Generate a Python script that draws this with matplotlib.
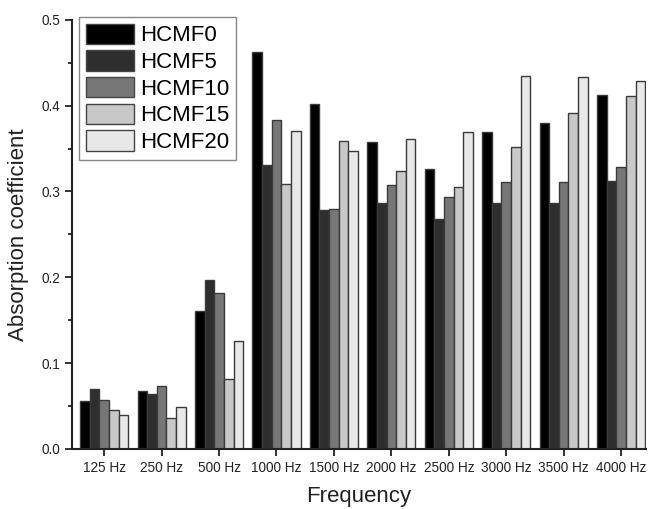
import matplotlib
matplotlib.use("Agg")
import matplotlib.pyplot as plt
from matplotlib.ticker import MultipleLocator, FormatStrFormatter
import numpy as np

plt.rcParams['font.family'] = ['Liberation Sans', 'DejaVu Sans']

categories = ["125 Hz", "250 Hz", "500 Hz", "1000 Hz", "1500 Hz",
              "2000 Hz", "2500 Hz", "3000 Hz", "3500 Hz", "4000 Hz"]
series_names = ["HCMF0", "HCMF5", "HCMF10", "HCMF15", "HCMF20"]
hcmf0 = [0.056, 0.068, 0.161, 0.462, 0.402, 0.358, 0.326, 0.369, 0.380, 0.412]
hcmf5 = [0.070, 0.064, 0.197, 0.331, 0.278, 0.287, 0.268, 0.287, 0.287, 0.312]
hcmf10 = [0.057, 0.073, 0.182, 0.383, 0.280, 0.308, 0.294, 0.311, 0.311, 0.328]
hcmf15 = [0.045, 0.036, 0.082, 0.309, 0.359, 0.324, 0.305, 0.352, 0.392, 0.411]
hcmf20 = [0.040, 0.049, 0.126, 0.370, 0.347, 0.361, 0.369, 0.434, 0.433, 0.429]
series = [hcmf0, hcmf5, hcmf10, hcmf15, hcmf20]
colors = ["#000000", "#2e2e2e", "#777777", "#c8c8c8", "#e8e8e8"]

fig = plt.figure(figsize=(6.49, 5.09), dpi=100)
ax = fig.add_axes([0.111, 0.118, 0.884, 0.843])

x = np.arange(len(categories))
w = 0.168
for k, (vals, name, c) in enumerate(zip(series, series_names, colors)):
    ax.bar(x + (k - 2) * w, vals, width=w, color=c, edgecolor="#3a3a3a",
           linewidth=1.0, label=name)

ax.set_xlim(-0.56, 9.43)
ax.set_ylim(0, 0.5)
ax.set_xticks(x)
ax.set_xticklabels(categories, fontsize=9.8)
ax.yaxis.set_major_locator(MultipleLocator(0.1))
ax.yaxis.set_minor_locator(MultipleLocator(0.05))
ax.yaxis.set_major_formatter(FormatStrFormatter('%.1f'))
ax.tick_params(axis='y', which='major', labelsize=9.8)
ax.tick_params(axis='both', which='major', direction='out', length=5, width=1.3,
               colors='#222222', labelcolor='#222222')
ax.tick_params(axis='y', which='minor', direction='out', length=3, width=1.3,
               colors='#222222')
ax.spines['top'].set_visible(False)
ax.spines['right'].set_visible(False)
for s in ['left', 'bottom']:
    ax.spines[s].set_linewidth(1.5)
    ax.spines[s].set_color('#222222')

ax.set_xlabel("Frequency", fontsize=16, labelpad=8, color='#222222')
ax.set_ylabel("Absorption coefficient", fontsize=16, labelpad=9, color='#222222')

leg = ax.legend(loc='upper left', bbox_to_anchor=(0.012, 1.007), fontsize=16,
                handlelength=2.2, handleheight=1.05, labelspacing=0.17,
                handletextpad=0.25, borderpad=0.3, borderaxespad=0.0,
                fancybox=False, edgecolor="#888888", framealpha=1)
leg.get_frame().set_linewidth(1.0)
for h in leg.legend_handles:
    h.set_edgecolor("#444444")

fig.savefig("out.png", dpi=100)
